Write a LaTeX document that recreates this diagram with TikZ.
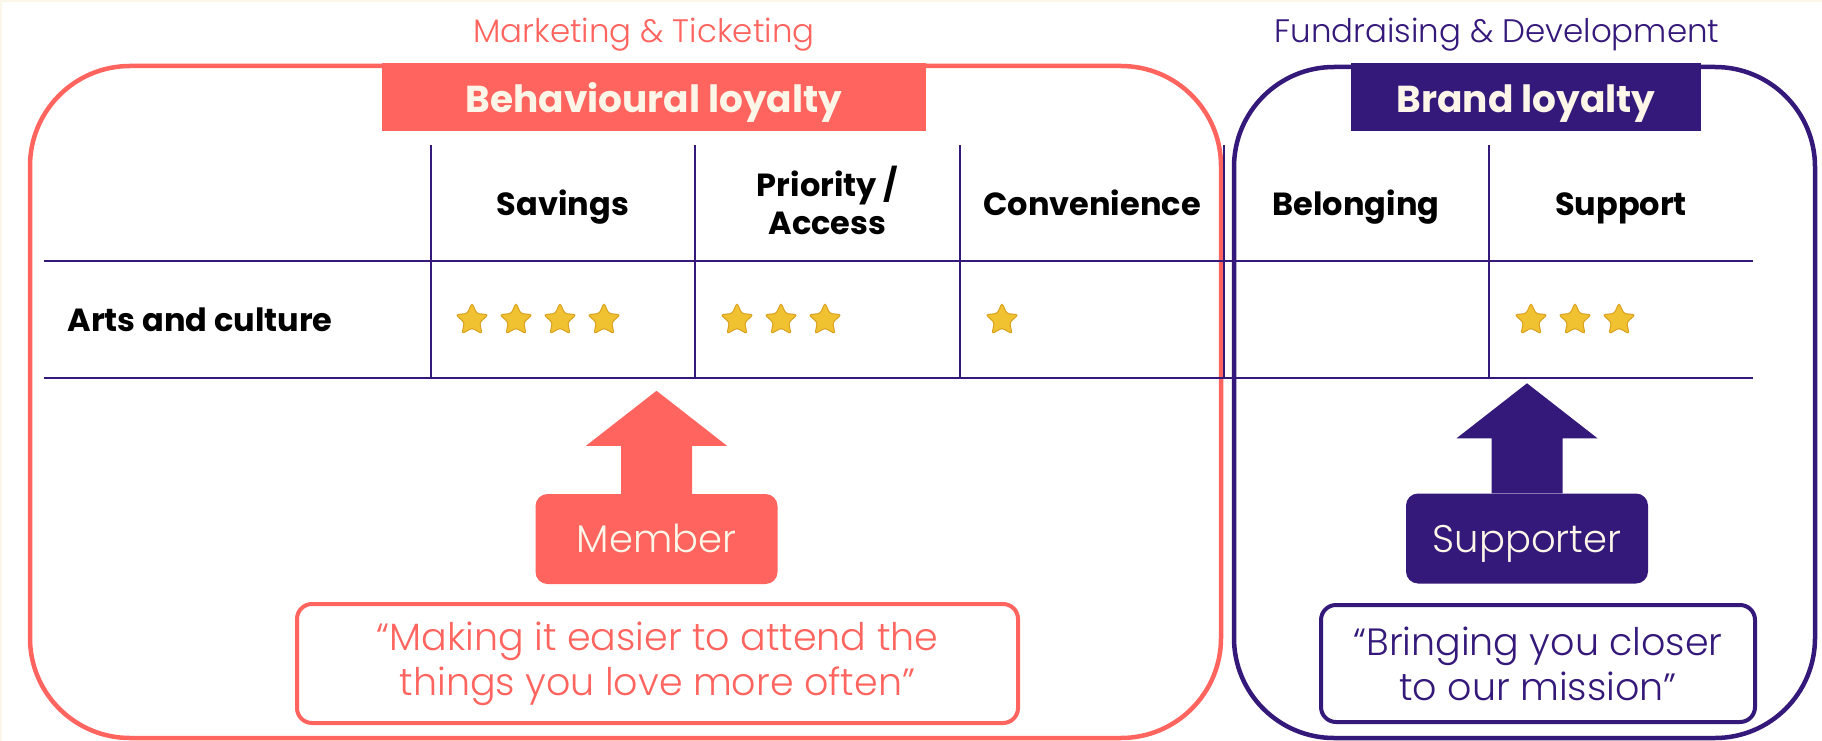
\documentclass[tikz,border=0pt]{standalone}
\usepackage{fontspec}
\setmainfont{Poppins}
\newfontfamily\lightfont{Poppins Light}
\usetikzlibrary{shapes.geometric}
\definecolor{coral}{HTML}{FF645F}
\definecolor{plum}{HTML}{35197A}
\definecolor{cream}{HTML}{FBF6E8}
\definecolor{gold}{HTML}{F0C232}
\definecolor{goldedge}{HTML}{D9A11E}
\tikzset{team label/.style={font=\lightfont\fontsize{32.5}{36}\selectfont},
	frame/.style={draw,line width=4.5pt,rounded corners=100pt,inner sep=0pt},
	banner/.style={inner sep=0pt,minimum height=68pt,text height=26pt,text depth=0pt,text=cream,
		font=\fontsize{37.5}{40}\selectfont\bfseries},
	col head/.style={align=center,font=\fontsize{32}{38}\selectfont\bfseries},
	grid line/.style={draw=plum,line width=2.5pt},
	gold star/.style={star,star points=5,star point ratio=2.1,minimum size=34pt,inner sep=0pt,
		fill=gold,draw=goldedge,line width=1pt,rounded corners=2.5pt},
	role/.style={rounded corners=12pt,minimum width=242pt,minimum height=90pt,inner sep=0pt,
		text height=27pt,text depth=0pt,text=cream,font=\lightfont\fontsize{38.5}{40}\selectfont},
	motto/.style={draw,line width=4pt,rounded corners=15pt,align=center,inner sep=0pt,
		font=\lightfont\fontsize{38}{45}\selectfont},
}
\newcommand{\upArrow}[3]{% node, head height, colour
	\fill[#3] ([xshift=-35.5pt]#1.north) -- ++(0,-#2) -- ++(-35,0) -- ++(70.5,-55) -- ++(70.5,55) -- ++(-35,0) -- ++(0,#2) -- cycle;}

\begin{document}
\begin{tikzpicture}[x=1pt,y=-1pt]
	\useasboundingbox (0,0) rectangle (1822,741);
	\fill[cream] (0,0) rectangle (1822,741);
	\fill[white] (2,2) rectangle (1822,741);

	% the two groups
	\node[frame,draw=coral,minimum width=1191pt,minimum height=672pt] (mktbox) at (625.5,402) {};
	\node[frame,draw=plum,minimum width=581pt,minimum height=671pt] (fundbox) at (1524.5,402.5) {};
	\node[team label,text=coral,anchor=base] (mkt) at (644,43) {Marketing \& Ticketing};
	\node[team label,text=plum,anchor=base] (fund) at (1497,43) {Fundraising \& Development};
	\node[banner,fill=coral,minimum width=544pt] (behav) at (654,97) {\raisebox{-2.5pt}{Behavioural loyalty}};
	\node[banner,fill=plum,minimum width=350pt] (brand) at (1526,97) {\raisebox{-2.5pt}{Brand loyalty}};

	% table
	\path[grid line] (44,261) -- (1753,261) (44,378) -- (1753,378);
	\foreach \x in {431,695,960,1224,1489}
		\path[grid line] (\x,145) -- (\x,378);
	\node[col head,anchor=base] (savings) at (563,215) {Savings};
	\node[col head] (priority) at (827.5,200) {Priority /\\Access};
	\node[col head,anchor=base] (conv) at (1092,215) {Convenience};
	\node[col head,anchor=base] (belong) at (1356,215) {Belonging};
	\node[col head,anchor=base] (support) at (1621,215) {Support};
	\node[col head,anchor=base west] (arts) at (64,331) {Arts and culture};

	\foreach \x in {472,516,560,604}
		\node[gold star] at (\x,320) {};
	\foreach \x in {737,781,825}
		\node[gold star] at (\x,320) {};
	\node[gold star] at (1002,320) {};
	\foreach \x in {1531,1575,1619}
		\node[gold star] at (\x,320) {};

	% who they are
	\node[role,fill=coral] (member) at (656.5,539) {Member};
	\node[role,fill=plum] (supporter) at (1527,538.5) {Supporter};
	\upArrow{member}{48}{coral}
	\upArrow{supporter}{55}{plum}

	\node[motto,draw=coral,text=coral,minimum width=721pt,minimum height=119pt] (mktquote) at (657.5,663.5)
		{\raisebox{-5pt}{\parbox{700pt}{\centering “Making it easier to attend the\\things you love more often”}}};
	\node[motto,draw=plum,text=plum,minimum width=434pt,minimum height=117pt] (fundquote) at (1538,663.5)
		{\raisebox{-5pt}{\parbox{420pt}{\centering “Bringing you closer\\to our mission”}}};
\end{tikzpicture}
\end{document}
